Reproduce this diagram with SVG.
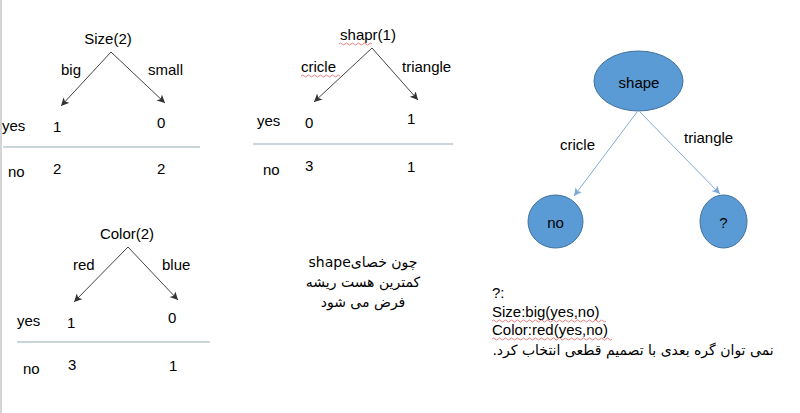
<svg xmlns="http://www.w3.org/2000/svg" width="800" height="413" viewBox="0 0 800 413">
<style>
text{font-family:"Liberation Sans","DejaVu Sans",sans-serif;font-size:15px;fill:#000}
.fa{font-family:"DejaVu Sans","Liberation Sans",sans-serif;font-size:14px}
.c{text-anchor:middle}
.dk{stroke:#444;stroke-width:1;fill:none}
.bl{stroke:#7ea9d6;stroke-width:1;fill:none}
.sep{stroke:#c9d5d9;stroke-width:2}
.node{fill:#5b9bd5;stroke:#41719c;stroke-width:1}
.sq{stroke:#e06060;stroke-width:0.8;fill:none}
</style>
<defs>
<marker id="ad" markerUnits="userSpaceOnUse" markerWidth="10" markerHeight="10" refX="8" refY="4" orient="auto"><path d="M0,0 L8,4 L0,8 L2,4 Z" fill="#333"/></marker>
<marker id="ab" markerUnits="userSpaceOnUse" markerWidth="10" markerHeight="10" refX="8" refY="4" orient="auto"><path d="M0,0 L8,4 L0,8 L2,4 Z" fill="#7ea9d6"/></marker>
</defs>
<rect x="0" y="0" width="800" height="413" fill="#fff"/>
<line x1="1" y1="0" x2="1" y2="413" stroke="#d4d4d4" stroke-width="2"/>

<g id="connectors">
<line class="dk" x1="111" y1="52" x2="61" y2="106" marker-end="url(#ad)"/>
<line class="dk" x1="111" y1="52" x2="165" y2="103" marker-end="url(#ad)"/>
<line class="dk" x1="372" y1="48" x2="314" y2="102" marker-end="url(#ad)"/>
<line class="dk" x1="372" y1="48" x2="418" y2="100" marker-end="url(#ad)"/>
<line class="dk" x1="128" y1="247" x2="74" y2="302" marker-end="url(#ad)"/>
<line class="dk" x1="128" y1="247" x2="178" y2="300" marker-end="url(#ad)"/>
<line class="bl" x1="637" y1="112" x2="574" y2="196" marker-end="url(#ab)"/>
<line class="bl" x1="640" y1="112" x2="720" y2="194" marker-end="url(#ab)"/>
</g>

<g id="size-tree">
<text class="c" x="108" y="44">Size(2)</text>
<text x="61" y="75">big</text>
<text x="148" y="75">small</text>
<text x="2" y="131">yes</text>
<text x="53" y="132">1</text>
<text x="157" y="128">0</text>
<line class="sep" x1="3" y1="147" x2="200" y2="147"/>
<text x="8" y="177">no</text>
<text x="53" y="174">2</text>
<text x="157" y="174">2</text>
</g>

<g id="shape-tree">
<text class="c" x="368" y="40">shapr(1)</text>
<path class="sq" d="M339,44 q1.5,-2 3,0 t3,0 t3,0 t3,0 t3,0 t3,0 t3,0 t3,0 t3,0 t3,0 t3,0"/>
<text x="301" y="72">cricle</text>
<path class="sq" d="M301,76 q1.5,-2 3,0 t3,0 t3,0 t3,0 t3,0 t3,0 t3,0 t3,0 t3,0 t3,0 t3,0 t3,0 t3,0"/>
<text x="402" y="72">triangle</text>
<text x="257" y="126">yes</text>
<text x="305" y="128">0</text>
<text x="407" y="124">1</text>
<line class="sep" x1="253" y1="144" x2="453" y2="144"/>
<text x="263" y="175">no</text>
<text x="305" y="171">3</text>
<text x="407" y="172">1</text>
</g>

<g id="color-tree">
<text class="c" x="127" y="239">Color(2)</text>
<text x="73" y="270">red</text>
<text x="162" y="270">blue</text>
<text x="17" y="326">yes</text>
<text x="67" y="328">1</text>
<text x="168" y="323">0</text>
<line class="sep" x1="17" y1="342" x2="210" y2="342"/>
<text x="23" y="374">no</text>
<text x="68" y="370">3</text>
<text x="169" y="371">1</text>
</g>

<g id="note-root">
<text class="fa c" x="363" y="267">shapeچون خصای</text>
<text class="fa c" x="363" y="287" direction="rtl">کمترین هست ریشه</text>
<text class="fa c" x="363" y="307" direction="rtl">فرض می شود</text>
</g>

<g id="node-shape">
<ellipse class="node" cx="638.5" cy="81" rx="44.5" ry="30"/>
<text class="c" x="639" y="88">shape</text>
</g>
<g id="node-no">
<ellipse class="node" cx="555.5" cy="221.5" rx="27.5" ry="26.5"/>
<text class="c" x="555.5" y="228">no</text>
</g>
<g id="node-q">
<ellipse class="node" cx="723.5" cy="221.5" rx="23.5" ry="26.5"/>
<text class="c" x="723.5" y="228">?</text>
</g>
<g id="edge-labels">
<text x="560" y="150">cricle</text>
<text x="684" y="143">triangle</text>
</g>

<g id="note-q">
<text x="492" y="298">?:</text>
<text x="492" y="317">Size:big(yes,no)</text>
<path class="sq" d="M492,321 q1.5,-2 3,0 t3,0 t3,0 t3,0 t3,0 t3,0 t3,0 t3,0 t3,0 t3,0 t3,0 t3,0 t3,0 t3,0 t3,0 t3,0 t3,0 t3,0 t3,0 t3,0 t3,0 t3,0 t3,0 t3,0 t3,0 t3,0 t3,0 t3,0 t3,0 t3,0 t3,0 t3,0 t3,0 t3,0 t3,0 t3,0 t3,0 t3,0"/>
<text x="492" y="335">Color:red(yes,no)</text>
<path class="sq" d="M492,339 q1.5,-2 3,0 t3,0 t3,0 t3,0 t3,0 t3,0 t3,0 t3,0 t3,0 t3,0 t3,0 t3,0 t3,0 t3,0 t3,0 t3,0 t3,0 t3,0 t3,0 t3,0 t3,0 t3,0 t3,0 t3,0 t3,0 t3,0 t3,0 t3,0 t3,0 t3,0 t3,0 t3,0 t3,0 t3,0 t3,0 t3,0 t3,0 t3,0 t3,0 t3,0"/>
<text class="fa c" x="633" y="355" direction="rtl">نمی توان گره بعدی با تصمیم قطعی انتخاب کرد.</text>
</g>
</svg>
